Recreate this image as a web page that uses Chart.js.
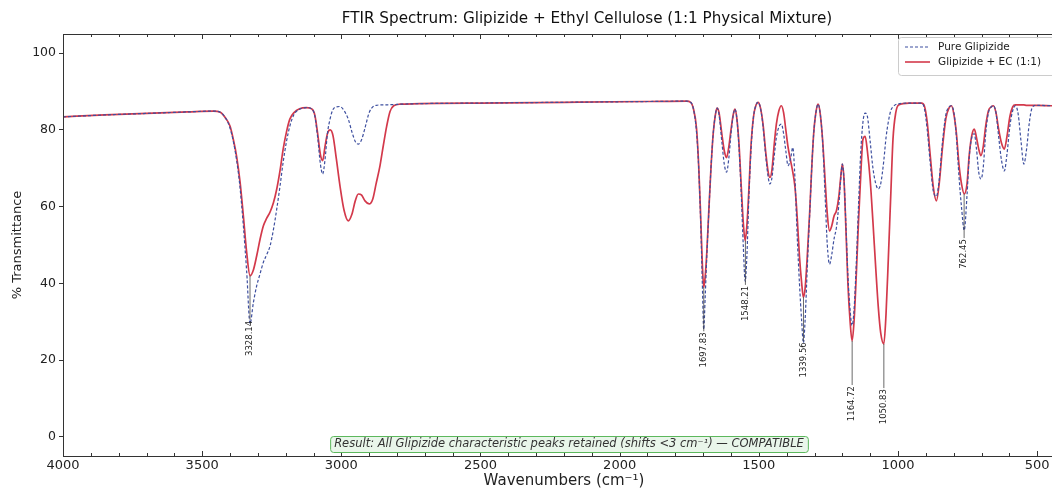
<!DOCTYPE html>
<html><head><meta charset="utf-8">
<script src="https://cdn.jsdelivr.net/npm/chart.js@4.4.0/dist/chart.umd.min.js"></script>
<style>
html,body{margin:0;padding:0;overflow:hidden;background:#fff;width:1052px;height:489px}
#wrap{width:1128px;height:489px;position:relative}
canvas{display:block}
</style></head><body>
<div id="wrap"><canvas id="c" width="1128" height="489"></canvas></div>
<script>
const chartTitle = 'FTIR Spectrum: Glipizide + Ethyl Cellulose (1:1 Physical Mixture)';
const xAxisTitle = 'Wavenumbers (cm\u207B\u00B9)';
const yAxisTitle = '% Transmittance';
const seriesNames = ['Pure Glipizide', 'Glipizide + EC (1:1)'];
const resultText = 'Result: All Glipizide characteristic peaks retained (shifts <3 cm\u207B\u00B9) \u2014 COMPATIBLE';
const xTickValues = [4000, 3500, 3000, 2500, 2000, 1500, 1000, 500];
const yTickValues = [0, 20, 40, 60, 80, 100];

const wavenumbers = [4000,3850,3700,3550,3460,3435,3415,3400,3388,3376,3364,3352,3340,3328,3316,3304,3292,3280,3268,3256,3244,3232,3220,3209,3197,3185,3170,3150,3125,3105,3095,3085,3075,3067,3059,3050,3040,3030,3018,3005,2990,2975,2962,2950,2939,2927,2915,2900,2887,2875,2861,2849,2837,2825,2812,2790,2500,2200,1900,1760,1745,1735,1724,1716,1709,1703,1698,1693,1687,1680,1672,1664,1656,1650,1643,1633,1624,1616,1608,1600,1592,1586,1579,1571,1563,1556,1549,1543,1536,1528,1519,1510,1503,1495,1485,1475,1466,1460,1453,1445,1437,1428,1419,1411,1403,1395,1386,1378,1370,1362,1354,1346,1340,1334,1326,1317,1310,1303,1295,1287,1279,1270,1262,1254,1246,1238,1230,1221,1212,1206,1200,1194,1187,1180,1172,1165,1158,1150,1142,1134,1126,1118,1110,1100,1090,1080,1071,1062,1051,1043,1035,1026,1018,1008,998,960,915,905,895,885,873,862,852,840,828,816,808,799,790,781,772,762,752,744,735,726,718,710,702,694,685,675,665,657,648,638,628,618,608,598,588,578,568,558,548,538,528,518,505,450,400];

const pureGlipizide = [83.4,83.9,84.3,84.7,84.9,84.6,83.0,80.5,77.0,72.0,65.0,55.0,43.0,29.5,35.0,39.4,42.5,45.5,47.5,49.8,54.0,59.4,65.5,71.6,77.0,81.0,84.0,85.4,85.8,85.4,83.5,78.0,71.0,68.5,72.0,79.0,83.0,85.3,86.0,86.1,85.0,82.8,79.5,77.0,76.3,77.5,80.5,84.5,86.0,86.4,86.5,86.5,86.5,86.6,86.6,86.7,87.0,87.2,87.4,87.5,87.2,85.5,79.5,70.0,56.0,40.0,28.0,36.0,47.0,58.0,70.0,79.0,84.0,85.7,84.0,77.0,71.0,69.0,72.5,79.0,83.8,85.4,83.0,75.0,63.0,50.0,40.5,47.0,62.0,75.0,83.5,86.5,87.2,86.0,81.0,73.0,67.5,65.9,67.5,73.0,78.0,80.8,81.5,79.0,74.5,70.7,72.5,75.4,67.0,52.0,40.0,30.0,24.5,30.0,44.0,58.5,70.0,79.0,84.5,86.7,84.0,76.0,63.0,50.0,45.0,47.5,51.5,54.7,61.0,67.0,71.1,67.0,55.0,42.0,33.0,29.0,33.0,45.0,60.0,74.0,82.0,84.4,83.5,77.0,70.0,66.0,64.6,66.0,72.0,78.0,82.0,85.0,86.0,86.6,86.8,87.0,87.0,85.5,80.0,72.0,64.0,62.7,67.0,77.0,84.0,86.0,86.3,84.5,78.0,68.0,60.0,53.8,63.0,73.0,78.0,79.0,75.0,69.0,67.2,70.0,79.0,84.5,86.0,86.3,84.5,78.0,72.0,69.3,74.0,81.0,85.0,86.3,84.0,77.0,71.1,75.0,82.0,85.8,86.4,86.3,86.2];

const glipizideEC = [83.4,83.9,84.3,84.7,84.9,84.6,83.0,81.0,77.5,73.0,66.5,57.6,48.0,42.0,43.5,47.2,51.5,55.0,57.0,58.6,61.0,64.6,69.5,75.0,79.5,82.8,84.5,85.5,85.8,85.4,83.8,79.0,73.5,72.0,75.5,79.0,80.0,78.5,72.5,65.5,59.0,56.3,58.0,61.5,63.3,63.0,61.5,60.7,62.0,66.0,70.7,76.0,81.0,84.8,86.3,86.7,87.0,87.2,87.4,87.5,87.2,85.5,80.5,70.5,57.5,45.0,39.0,41.5,48.0,58.5,70.0,79.0,84.0,85.7,84.5,79.0,74.5,72.8,75.5,80.0,84.0,85.4,83.0,76.0,65.0,56.0,51.1,55.0,64.0,76.0,83.5,86.5,87.2,86.0,81.5,74.0,68.8,67.6,69.5,76.0,81.5,85.0,86.3,84.5,80.0,75.5,72.0,69.0,65.0,57.0,47.0,40.0,36.4,38.5,47.0,59.0,70.0,79.0,84.5,86.7,84.0,76.5,67.0,58.0,53.7,55.0,57.5,59.0,63.0,67.5,71.1,67.0,54.0,40.0,30.0,25.0,30.0,42.0,56.0,68.0,77.5,78.3,74.5,67.0,56.0,44.0,34.0,27.0,24.2,32.0,46.0,63.0,77.6,84.5,86.5,87.0,87.0,86.2,82.0,74.0,65.0,61.5,66.0,75.5,83.0,85.8,86.3,84.0,79.0,71.0,66.0,63.3,66.0,73.5,78.5,80.2,78.0,75.0,73.3,75.5,81.0,85.0,86.0,86.3,84.5,80.0,76.5,75.0,78.5,83.5,86.0,86.5,86.5,86.5,86.5,86.4,86.4,86.4,86.4,86.3,86.2];

const peakWavenumbers = [3328.14, 1697.83, 1548.21, 1339.56, 1164.72, 1050.83, 762.45];
const peakMinima = [42.0, 39.0, 51.1, 36.4, 25.0, 24.2, 63.3];
const peakLabels = ['3328.14', '1697.83', '1548.21', '1339.56', '1164.72', '1050.83', '762.45'];

const FONT = '"DejaVu Sans", sans-serif';
const BLUE = '#3d4f9f';
const RED = '#d3394b';

const overlayPlugin = {
  id: 'overlay',
  afterDatasetsDraw(chart) {
    const {ctx, scales: {x, y}} = chart;
    ctx.save();
    ctx.font = '8.5px ' + FONT;
    ctx.fillStyle = '#222';
    ctx.strokeStyle = '#444';
    ctx.lineWidth = 0.8;
    peakWavenumbers.forEach((wn, i) => {
      const px = x.getPixelForValue(wn);
      const y1 = y.getPixelForValue(peakMinima[i]);
      const y2 = y.getPixelForValue(peakMinima[i] - 11.5);
      ctx.beginPath(); ctx.moveTo(px, y1); ctx.lineTo(px, y2); ctx.stroke();
      ctx.save();
      ctx.translate(px, y2 + 1);
      ctx.rotate(-Math.PI / 2);
      ctx.textAlign = 'right'; ctx.textBaseline = 'middle';
      ctx.fillText(peakLabels[i], 0, 0);
      ctx.restore();
    });
    ctx.restore();
  },
  afterDraw(chart) {
    const {ctx, chartArea: ca, scales: {x}} = chart;
    ctx.save();
    ctx.strokeStyle = '#333'; ctx.lineWidth = 1;
    ctx.strokeRect(Math.round(ca.left) + 0.5, Math.round(ca.top) + 0.5, ca.right - ca.left, ca.bottom - ca.top);
    ctx.beginPath();
    for (let v = 4000; v >= 400; v -= 100) {
      const px = Math.round(x.getPixelForValue(v)) + 0.5;
      const len = (v % 500 === 0) ? 5 : 3;
      ctx.moveTo(px, ca.bottom); ctx.lineTo(px, ca.bottom - len);
      ctx.moveTo(px, ca.top); ctx.lineTo(px, ca.top + len);
    }
    ctx.stroke();
    // title (figure-centred)
    ctx.fillStyle = '#111';
    ctx.font = '15.2px ' + FONT;
    ctx.textAlign = 'center'; ctx.textBaseline = 'middle';
    ctx.fillText(chartTitle, (ca.left + ca.right) / 2 + 23, 19);
    // legend
    const lx = 898, ly = 37, lw = ca.right - 5 - 898, lh = 38;
    ctx.fillStyle = 'rgba(255,255,255,0.85)';
    ctx.strokeStyle = '#ccc'; ctx.lineWidth = 1;
    ctx.beginPath(); ctx.roundRect(lx + 0.5, ly + 0.5, lw, lh, 3); ctx.fill(); ctx.stroke();
    ctx.font = '10.5px ' + FONT; ctx.textAlign = 'left'; ctx.textBaseline = 'middle';
    const rows = [[BLUE, [3, 2], 1.2], [RED, [], 1.6]];
    rows.forEach((r, i) => {
      const yy = ly + 10 + i * 15;
      ctx.strokeStyle = r[0]; ctx.lineWidth = r[2]; ctx.setLineDash(r[1]);
      ctx.beginPath(); ctx.moveTo(lx + 7, yy); ctx.lineTo(lx + 32, yy); ctx.stroke();
      ctx.setLineDash([]);
      ctx.fillStyle = '#222';
      ctx.fillText(seriesNames[i], lx + 40, yy);
    });
    // result box
    ctx.font = 'italic 11.5px ' + FONT;
    const tw = ctx.measureText(resultText).width;
    const cx = 569;
    const by = 436, bh = 16;
    ctx.fillStyle = '#e9f6ea'; ctx.strokeStyle = '#5cb85c'; ctx.lineWidth = 1;
    ctx.beginPath(); ctx.roundRect(cx - tw / 2 - 4 + 0.5, by + 0.5, tw + 8, bh, 3); ctx.fill(); ctx.stroke();
    ctx.fillStyle = '#333'; ctx.textAlign = 'center'; ctx.textBaseline = 'middle';
    ctx.fillText(resultText, cx, by + bh / 2 + 0.5);
    ctx.restore();
  }
};

new Chart(document.getElementById('c'), {
  type: 'line',
  data: {
    datasets: [
      {
        label: seriesNames[0],
        data: wavenumbers.map((w, i) => ({x: w, y: pureGlipizide[i]})),
        borderColor: BLUE, borderWidth: 1.2, borderDash: [3, 2],
        pointRadius: 0, cubicInterpolationMode: 'monotone', fill: false, order: 0
      },
      {
        label: seriesNames[1],
        data: wavenumbers.map((w, i) => ({x: w, y: glipizideEC[i]})),
        borderColor: RED, borderWidth: 1.7,
        pointRadius: 0, cubicInterpolationMode: 'monotone', fill: false, order: 1
      }
    ]
  },
  options: {
    responsive: false,
    animation: false,
    devicePixelRatio: 1,
    layout: {padding: {top: 34, right: 63, left: 0, bottom: 0}},
    plugins: {legend: {display: false}, tooltip: {enabled: false}, title: {display: false}},
    scales: {
      x: {
        type: 'linear', min: 400, max: 4000, reverse: true,
        afterBuildTicks: s => { s.ticks = xTickValues.map(v => ({value: v})); },
        afterFit: s => { s.height = 33; },
        grid: {display: false, drawTicks: false},
        border: {display: false},
        ticks: {font: {family: 'DejaVu Sans', size: 13}, color: '#222', padding: 2, maxRotation: 0, autoSkip: false, callback: v => String(v)},
        title: {display: true, text: xAxisTitle, font: {family: 'DejaVu Sans', size: 15, lineHeight: 1.0}, color: '#222', padding: {top: 0, bottom: 0}}
      },
      y: {
        type: 'linear', min: -5, max: 105,
        afterBuildTicks: s => { s.ticks = yTickValues.map(v => ({value: v})); },
        afterFit: s => { s.width = 63; },
        grid: {display: true, drawOnChartArea: false, drawTicks: true, tickLength: 4, color: '#333'},
        border: {display: false},
        ticks: {font: {family: 'DejaVu Sans', size: 12.5}, color: '#222', padding: 3, callback: v => String(v)},
        title: {display: true, text: yAxisTitle, font: {family: 'DejaVu Sans', size: 13}, color: '#222', padding: {top: 10, bottom: 0}}
      }
    }
  },
  plugins: [overlayPlugin]
});
</script>
</body></html>
